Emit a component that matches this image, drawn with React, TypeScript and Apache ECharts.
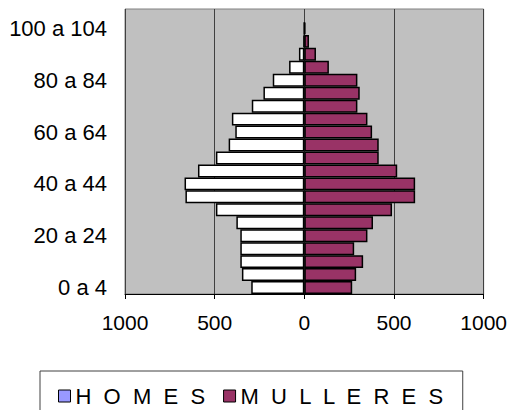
import React, { useEffect, useRef } from "react";
import * as echarts from "echarts";

const ageGroups = [
  "0 a 4", "5 a 9", "10 a 14", "15 a 19", "20 a 24", "25 a 29", "30 a 34",
  "35 a 39", "40 a 44", "45 a 49", "50 a 54", "55 a 59", "60 a 64", "65 a 69",
  "70 a 74", "75 a 79", "80 a 84", "85 a 89", "90 a 94", "95 a 99", "100 a 104",
];
const homes = [296, 348, 357, 357, 357, 379, 493, 663, 668, 593, 493, 422, 385, 404, 293, 228, 176, 85, 30, 5, 2];
const mulleres = [267, 289, 328, 278, 352, 383, 489, 618, 618, 518, 415, 415, 378, 352, 296, 309, 296, 137, 65, 26, 6];
const xTicks = [-1000, -500, 0, 500, 1000];

export default function App() {
  const ref = useRef<HTMLDivElement>(null);
  useEffect(() => {
    if (!ref.current) return;
    const chart = echarts.init(ref.current, undefined, { renderer: "svg" });
    const font = "'Liberation Sans', Arial, sans-serif";
    chart.setOption({
      animation: false,
      textStyle: { fontFamily: font },
      grid: {
        left: 125, right: 24, top: 9, bottom: 116,
        show: true, backgroundColor: "#c0c0c0", borderColor: "#808080", borderWidth: 1,
      },
      legend: {
        left: 40, top: 371,
        padding: [14, 18, 30, 18],
        backgroundColor: "#fff", borderColor: "#404040", borderWidth: 1, borderRadius: 0,
        itemWidth: 12, itemHeight: 12, itemGap: 18,
        icon: "rect",
        textStyle: { fontSize: 22, color: "#000", fontFamily: font },
        formatter: (n: string) => n.split("").join("  "),
        data: [
          { name: "HOMES", itemStyle: { color: "#9999ff", borderColor: "#000", borderWidth: 1 } },
          { name: "MULLERES", itemStyle: { color: "#993366", borderColor: "#000", borderWidth: 1 } },
        ],
      },
      xAxis: {
        type: "value", min: xTicks[0], max: xTicks[xTicks.length - 1], interval: 500,
        axisLine: { show: true, onZero: false, lineStyle: { color: "#000", width: 1 } },
        axisTick: { show: true, length: 5, lineStyle: { color: "#000" } },
        axisLabel: {
          fontSize: 21, color: "#000", margin: 18, fontFamily: font,
          formatter: (v: number) => String(Math.abs(v)),
        },
        splitLine: { show: true, lineStyle: { color: "#404040", width: 1 } },
      },
      yAxis: {
        type: "category",
        data: [...ageGroups, ""],
        axisLine: { show: false },
        axisTick: { show: false },
        axisLabel: { interval: 3, fontSize: 22, color: "#000", margin: 18, fontFamily: font },
        splitLine: { show: false },
      },
      series: [
        {
          name: "HOMES", type: "bar",
          data: homes.map((v) => -v),
          barCategoryGap: "0%", barGap: "-100%",
          itemStyle: { color: "#ffffff", borderColor: "#000", borderWidth: 1.5 },
        },
        {
          name: "MULLERES", type: "bar",
          data: mulleres,
          barCategoryGap: "0%", barGap: "-100%",
          itemStyle: { color: "#993366", borderColor: "#000", borderWidth: 1.5 },
        },
      ],
    });
    return () => chart.dispose();
  }, []);
  return <div ref={ref} style={{ width: 510, height: 410, position: "absolute", left: 0, top: 0 }} />;
}
